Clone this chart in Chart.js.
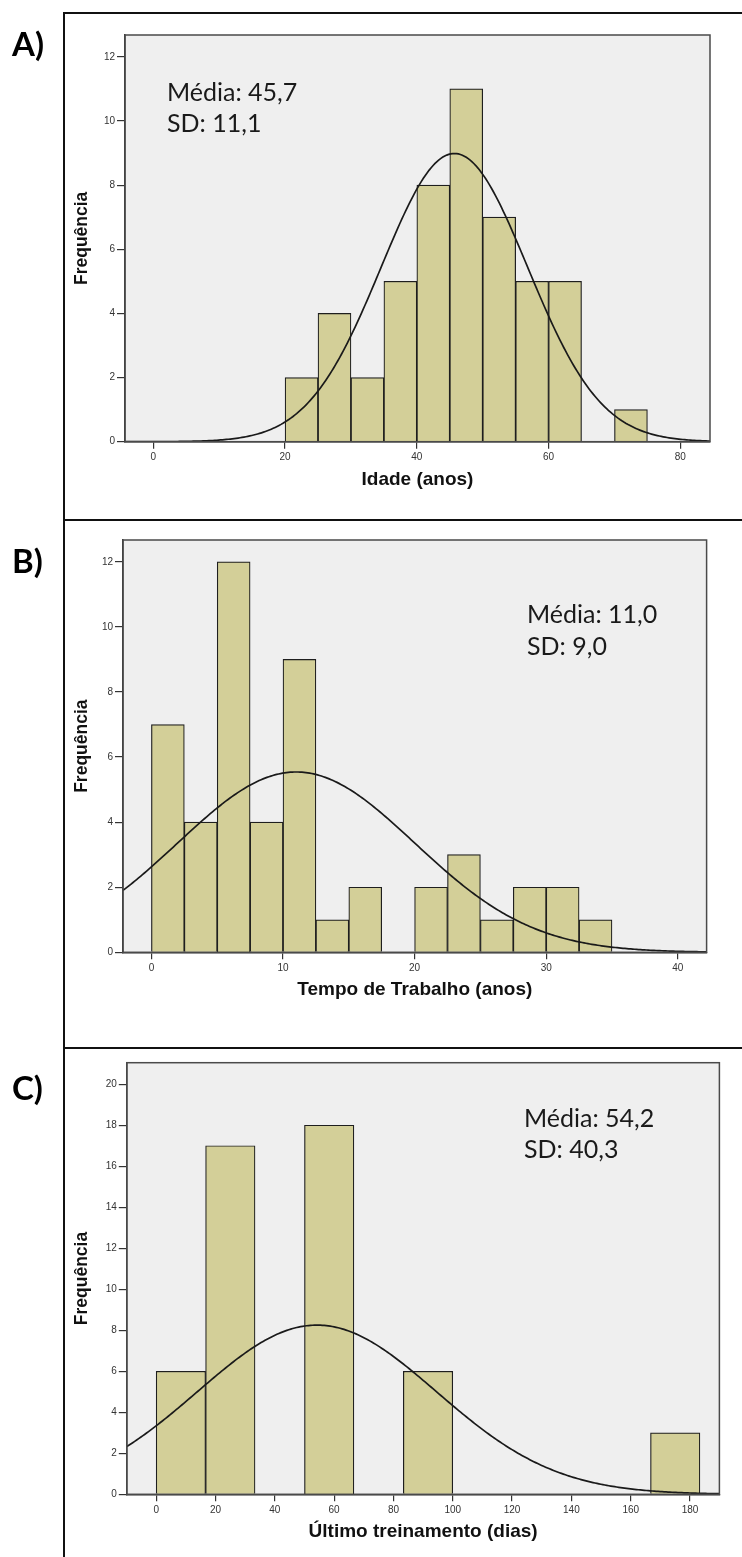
<!DOCTYPE html>
<html>
<head>
<meta charset="utf-8">
<script src="https://cdn.jsdelivr.net/npm/chart.js@4.4.0/dist/chart.umd.min.js"></script>
<style>
  html, body { margin: 0; padding: 0; background: #fff; }
  body { width: 742px; height: 1557px; position: relative; overflow: hidden; }
  .rule { position: absolute; background: #111; }
  .panel { position: absolute; left: 0; width: 742px; }
  .panel canvas { display: block; }
</style>
</head>
<body>
<div class="rule" style="left:63px;top:12px;width:2px;height:1545px"></div>
<div class="rule" style="left:63px;top:12px;width:679px;height:2px"></div>
<div class="rule" style="left:63px;top:519px;width:679px;height:2px"></div>
<div class="rule" style="left:63px;top:1047px;width:679px;height:2px"></div>

<div class="panel" style="top:14px;height:505px"><canvas id="chartA"></canvas></div>
<div class="panel" style="top:521px;height:526px"><canvas id="chartB"></canvas></div>
<div class="panel" style="top:1049px;height:508px"><canvas id="chartC"></canvas></div>

<script>
// A) Idade (anos)
const idadeEdges  = [20, 25, 30, 35, 40, 45, 50, 55, 60, 65, 70, 75];
const idadeCounts = [2, 4, 2, 5, 8, 11, 7, 5, 5, 0, 1];
const idadeStats  = [45.7, 11.1];   // média, SD
const idadeXTicks = [0, 20, 40, 60, 80];
const idadeYTicks = [0, 2, 4, 6, 8, 10, 12];

// B) Tempo de Trabalho (anos)
const tempoEdges  = [0, 2.5, 5, 7.5, 10, 12.5, 15, 17.5, 20, 22.5, 25, 27.5, 30, 32.5, 35];
const tempoCounts = [7, 4, 12, 4, 9, 1, 2, 0, 2, 3, 1, 2, 2, 1];
const tempoStats  = [11.0, 9.0];
const tempoXTicks = [0, 10, 20, 30, 40];
const tempoYTicks = [0, 2, 4, 6, 8, 10, 12];

// C) Último treinamento (dias)
const treinoEdges  = [0, 16.67, 33.33, 50, 66.67, 83.33, 100, 116.67, 133.33, 150, 166.67, 183.33];
const treinoCounts = [6, 17, 0, 18, 0, 6, 0, 0, 0, 0, 3];
const treinoStats  = [54.2, 40.3];
const treinoXTicks = [0, 20, 40, 60, 80, 100, 120, 140, 160, 180];
const treinoYTicks = [0, 2, 4, 6, 8, 10, 12, 14, 16, 18, 20];

const FONT = '"Liberation Sans", Arial, sans-serif';
const NOTE_FONT = 'Lato, "Open Sans", sans-serif';

function toBars(edges, counts) {
    return counts.map((c, i) => ({ x: (edges[i] + edges[i + 1]) / 2, y: c }));
}

// curva normal ajustada (média / SD mostrados no gráfico)
function normalCurve(edges, counts, stats, xMin, xMax) {
    const n = counts.reduce((a, b) => a + b, 0);
    const w = edges[1] - edges[0];
    const [mean, sd] = stats;
    const k = n * w / (sd * Math.sqrt(2 * Math.PI));
    const pts = [];
    const steps = 300;
    for (let i = 0; i <= steps; i++) {
        const x = xMin + (xMax - xMin) * i / steps;
        pts.push({ x: x, y: k * Math.exp(-0.5 * Math.pow((x - mean) / sd, 2)) });
    }
    return pts;
}

const fmt = v => v.toFixed(1).replace('.', ',');

// fundo cinza, moldura da área do gráfico, rótulo do painel e média/SD
const panelDeco = {
    id: 'panelDeco',
    beforeDraw(chart, args, opts) {
        const a = chart.chartArea;
        const ctx = chart.ctx;
        ctx.save();
        ctx.fillStyle = '#efefef';
        ctx.fillRect(a.left, a.top, a.right - a.left, a.bottom - a.top);
        ctx.restore();
    },
    afterDraw(chart, args, opts) {
        const a = chart.chartArea;
        const ctx = chart.ctx;
        ctx.save();
        ctx.strokeStyle = '#4a4a4a';
        ctx.lineWidth = 1.5;
        ctx.strokeRect(a.left, a.top, a.right - a.left, a.bottom - a.top);

        ctx.fillStyle = '#000';
        ctx.font = 'bold 33px ' + NOTE_FONT;
        ctx.textBaseline = 'alphabetic';
        ctx.fillText(opts.label, 12, opts.labelBaseline - opts.top);

        ctx.fillStyle = '#1a1a1a';
        ctx.font = '25px ' + NOTE_FONT;
        opts.notes.forEach((t, i) => {
            ctx.fillText(t, opts.noteX, opts.noteBaselines[i] - opts.top);
        });
        ctx.restore();
    }
};

function makeHistogram(canvasId, cfg) {
    const canvas = document.getElementById(canvasId);
    canvas.width = 742;
    canvas.height = cfg.height;
    canvas.style.width = '742px';
    canvas.style.height = cfg.height + 'px';

    const area = cfg.area;
    const xAxisH = 50;

    new Chart(canvas.getContext('2d'), {
        type: 'bar',
        data: {
            datasets: [{
                type: 'line',
                data: normalCurve(cfg.edges, cfg.counts, cfg.stats, cfg.xRange[0], cfg.xRange[1]),
                borderColor: '#1a1a1a',
                borderWidth: 1.7,
                pointRadius: 0,
                tension: 0,
                fill: false,
                order: 0
            }, {
                type: 'bar',
                data: toBars(cfg.edges, cfg.counts),
                backgroundColor: '#d3cf98',
                borderColor: '#1e1e1e',
                borderWidth: ctx => (ctx.raw && ctx.raw.y > 0 ? 1.2 : 0),
                borderSkipped: 'bottom',
                barPercentage: 1,
                categoryPercentage: 1,
                order: 1
            }]
        },
        options: {
            responsive: false,
            animation: false,
            events: [],
            layout: {
                padding: {
                    left: 66,
                    top: area.top - cfg.top,
                    right: 742 - area.right,
                    bottom: cfg.height - (area.bottom - cfg.top) - xAxisH
                }
            },
            plugins: {
                legend: { display: false },
                tooltip: { enabled: false },
                panelDeco: {
                    top: cfg.top,
                    label: cfg.label,
                    labelBaseline: cfg.labelBaseline,
                    notes: ['Média: ' + fmt(cfg.stats[0]), 'SD: ' + fmt(cfg.stats[1])],
                    noteX: cfg.noteX,
                    noteBaselines: cfg.noteBaselines
                }
            },
            scales: {
                x: {
                    type: 'linear',
                    offset: false,
                    min: cfg.xRange[0],
                    max: cfg.xRange[1],
                    afterBuildTicks: s => { s.ticks = cfg.xTicks.map(v => ({ value: v })); },
                    afterFit: s => { s.height = xAxisH; },
                    grid: { display: true, offset: false, drawOnChartArea: false, drawTicks: true, tickLength: 7, color: '#333', lineWidth: 1.2 },
                    border: { display: true, color: '#333', width: 1.5 },
                    ticks: { font: { family: FONT, size: 10 }, color: '#333', padding: 3, maxRotation: 0, autoSkip: false },
                    title: {
                        display: true,
                        text: cfg.xTitle,
                        color: '#111',
                        font: { family: FONT, size: 19, weight: 'bold' },
                        padding: { top: 0, bottom: 1 }
                    }
                },
                y: {
                    type: 'linear',
                    min: 0,
                    max: cfg.yMax,
                    afterBuildTicks: s => { s.ticks = cfg.yTicks.map(v => ({ value: v })); },
                    afterFit: s => { s.width = area.left - 66; },
                    grid: { display: true, drawOnChartArea: false, drawTicks: true, tickLength: 8, color: '#333', lineWidth: 1.2 },
                    border: { display: true, color: '#333', width: 1.5 },
                    ticks: { font: { family: FONT, size: 10 }, color: '#333', padding: 2 },
                    title: {
                        display: true,
                        text: 'Frequência',
                        color: '#111',
                        font: { family: FONT, size: 17.5, weight: 'bold' },
                        padding: { top: 5.5, bottom: 0 }
                    }
                }
            }
        },
        plugins: [panelDeco]
    });
}

makeHistogram('chartA', {
    edges: idadeEdges, counts: idadeCounts, stats: idadeStats,
    xTicks: idadeXTicks, yTicks: idadeYTicks, xTitle: 'Idade (anos)',
    xRange: [-4.3, 84.5], yMax: 12.68,
    top: 14, height: 505,
    area: { left: 125, top: 35, right: 710, bottom: 441.7 },
    label: 'A)', labelBaseline: 56,
    noteX: 167, noteBaselines: [101, 132]
});

makeHistogram('chartB', {
    edges: tempoEdges, counts: tempoCounts, stats: tempoStats,
    xTicks: tempoXTicks, yTicks: tempoYTicks, xTitle: 'Tempo de Trabalho (anos)',
    xRange: [-2.16, 42.19], yMax: 12.67,
    top: 521, height: 526,
    area: { left: 123, top: 540, right: 706.6, bottom: 952.3 },
    label: 'B)', labelBaseline: 573,
    noteX: 527, noteBaselines: [623, 655]
});

makeHistogram('chartC', {
    edges: treinoEdges, counts: treinoCounts, stats: treinoStats,
    xTicks: treinoXTicks, yTicks: treinoYTicks, xTitle: 'Último treinamento (dias)',
    xRange: [-9.9, 189.9], yMax: 21.05,
    top: 1049, height: 508,
    area: { left: 126.8, top: 1062.7, right: 719.4, bottom: 1494.3 },
    label: 'C)', labelBaseline: 1100,
    noteX: 524, noteBaselines: [1127, 1158]
});
</script>
</body>
</html>
